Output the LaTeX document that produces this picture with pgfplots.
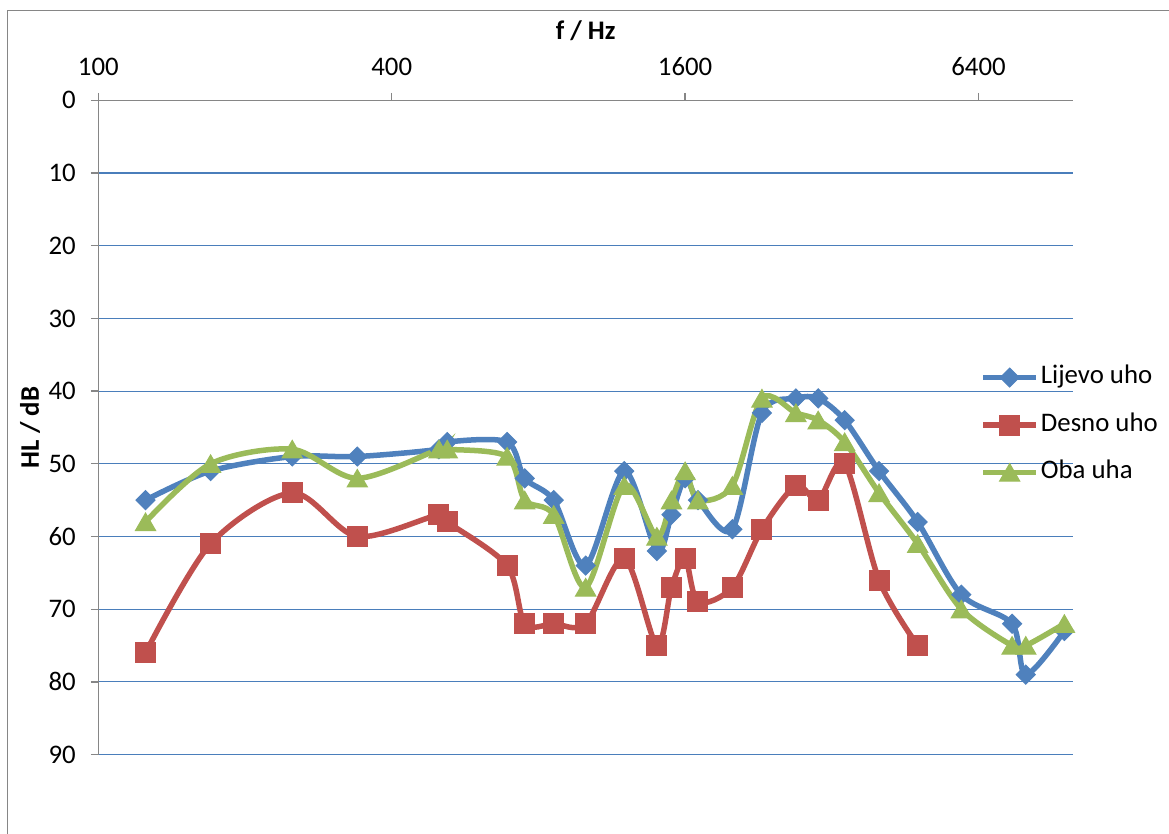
\documentclass[border=0pt]{standalone}
\usepackage{pgfplots}
\pgfplotsset{compat=1.18}
\usepackage{fontspec}
\setmainfont{Carlito}

\definecolor{lblue}{HTML}{4F81BD}
\definecolor{lred}{HTML}{C0504D}
\definecolor{lgreen}{HTML}{9BBB59}
\definecolor{gridblue}{HTML}{4A7EBB}
\definecolor{axgray}{HTML}{868686}

\newcommand{\chartfont}{\fontsize{13.4}{16}\selectfont}

\begin{document}
\begin{tikzpicture}
\useasboundingbox (0,0) rectangle (584.5pt,417pt);
% chart area border (only left and top edges are inside the crop)
\draw[color=axgray, line width=0.65pt] (3.75pt,-5pt) -- (3.75pt,411.65pt) -- (600pt,411.65pt);

\begin{axis}[
  at={(49.15pt,39.7pt)}, anchor=south west,
  scale only axis,
  width=487.35pt, height=327.15pt,
  xmode=log, log basis x=2,
  xmin=100, xmax=10000,
  ymin=0, ymax=90, y dir=reverse,
  axis x line*=top, axis y line*=left,
  xtick={100,400,1600,6400},
  xticklabels={100,400,1600,6400},
  ytick={0,10,...,90},
  xminorticks=false, yminorticks=false,
  ymajorgrids=true,
  grid style={color=gridblue, line width=0.6pt},
  axis line style={color=axgray, line width=0.65pt},
  tick style={color=axgray, line width=0.65pt},
  tick align=outside,
  major tick length=3.75pt,
  font=\chartfont,
  ticklabel style={font=\chartfont},
  xticklabel style={yshift=5pt},
  yticklabel style={xshift=-4pt},
  /pgf/number format/assume math mode=true,
  xlabel={\textbf{f / Hz}},
  ylabel={\textbf{HL / dB}},
  xlabel style={at={(axis description cs:0.5,1.1059)}, anchor=center},
  ylabel style={at={(axis description cs:-0.0701,0.5)}, anchor=center},
  legend cell align=left,
  legend style={at={(axis description cs:0.9046,0.5037)}, anchor=west,
    draw=none, fill=none, inner sep=0pt, font=\chartfont,
    nodes={inner sep=0pt, text height=9pt, text depth=3pt},
    row sep=11.75pt, column sep=1pt},
  legend image code/.code={%
    \draw[mark repeat=2,mark phase=2,#1]
      plot coordinates {(0pt,0pt) (13.25pt,0pt) (26.5pt,0pt)};},
  every axis plot/.append style={line width=2.75pt, smooth, tension=0.5},
]

% Lijevo uho
\addplot[color=lblue, mark=square*, mark size=3.36pt,
  mark options={rotate=45, solid, line width=0.5pt}]
coordinates {
  (125,55) (170,51) (250,49) (340,49) (500,48) (520,47) (690,47)
  (750,52) (860,55) (1000,64) (1200,51) (1400,62) (1500,57) (1600,52)
  (1700,55) (2000,59) (2300,43) (2700,41) (3000,41) (3400,44) (4000,51)
  (4800,58) (5900,68) (7500,72) (8000,79) (9600,73)
};
\addlegendentry{Lijevo uho}

% Desno uho
\addplot[color=lred, mark=square*, mark size=5pt,
  mark options={solid, line width=0.5pt}]
coordinates {
  (125,76) (170,61) (250,54) (340,60) (500,57) (520,58) (690,64)
  (750,72) (860,72) (1000,72) (1200,63) (1400,75) (1500,67) (1600,63)
  (1700,69) (2000,67) (2300,59) (2700,53) (3000,55) (3400,50) (4000,66)
  (4800,75)
};
\addlegendentry{Desno uho}

% Oba uha
\addplot[color=lgreen, mark=triangle*, mark size=5.85pt,
  mark options={solid, line width=0.5pt, yshift=-1.4pt}]
coordinates {
  (125,58) (170,50) (250,48) (340,52) (500,48) (520,48) (690,49)
  (750,55) (860,57) (1000,67) (1200,53) (1400,60) (1500,55) (1600,51)
  (1700,55) (2000,53) (2300,41) (2700,43) (3000,44) (3400,47) (4000,54)
  (4800,61) (5900,70) (7500,75) (8000,75) (9600,72)
};
\addlegendentry{Oba uha}

\end{axis}
\end{tikzpicture}
\end{document}
